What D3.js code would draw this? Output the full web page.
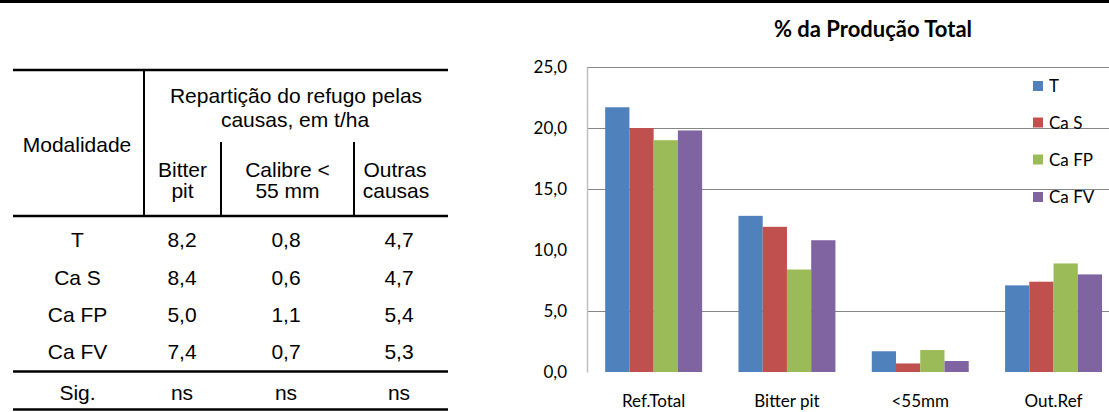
<!DOCTYPE html>
<html>
<head>
<meta charset="utf-8">
<script src="https://cdn.jsdelivr.net/npm/d3@7"></script>
<style>
  html, body { margin: 0; padding: 0; background: #fff; }
  svg { display: block; }
</style>
</head>
<body>
<svg id="chart" width="1109" height="412"></svg>
<script>
// ---- Table data ----
const tableRowLabels = ["T", "Ca S", "Ca FP", "Ca FV"];
const colBitterPit = ["8,2", "8,4", "5,0", "7,4"];
const colCalibre = ["0,8", "0,6", "1,1", "0,7"];
const colOutras = ["4,7", "4,7", "5,4", "5,3"];
const sigRow = ["Sig.", "ns", "ns", "ns"];

// ---- Chart data ----
const categories = ["Ref.Total", "Bitter pit", "<55mm", "Out.Ref"];
const seriesNames = ["T", "Ca S", "Ca FP", "Ca FV"];
const valuesT = [21.7, 12.8, 1.7, 7.1];
const valuesCaS = [20.0, 11.9, 0.7, 7.4];
const valuesCaFP = [19.0, 8.4, 1.8, 8.9];
const valuesCaFV = [19.8, 10.8, 0.9, 8.0];
const yTickValues = [0, 5, 10, 15, 20, 25];
const gridValues = [5, 15, 20, 25];
const colors = ["#4F81BD", "#C0504D", "#9BBB59", "#8064A2"];
const chartTitle = "% da Produção Total";

const svg = d3.select("#chart");

// top rule
svg.append("rect").attr("x", 0).attr("y", 0).attr("width", 1109).attr("height", 3).attr("fill", "#000");

// ---------------- TABLE ----------------
const tf = "'Liberation Sans', Arial, sans-serif";
const tfs = 21;
const tb = svg.append("g");
const tx0 = 13, tx1 = 448;
function hline(y, w) {
  tb.append("line").attr("x1", tx0).attr("x2", tx1).attr("y1", y).attr("y2", y)
    .attr("stroke", "#000").attr("stroke-width", w);
}
function vline(x, y1, y2) {
  tb.append("line").attr("x1", x).attr("x2", x).attr("y1", y1).attr("y2", y2)
    .attr("stroke", "#000").attr("stroke-width", 2);
}
function txt(s, x, y) {
  tb.append("text").attr("x", x).attr("y", y).attr("text-anchor", "middle")
    .attr("font-family", tf).attr("font-size", tfs).attr("fill", "#000").text(s);
}
hline(70, 2.5);
hline(216, 2.5);
hline(371.5, 2.5);
hline(409.5, 2.5);
vline(144, 70, 216);
vline(221, 142, 216);
vline(354, 142, 216);

txt("Repartição do refugo pelas", 296, 103);
txt("causas, em t/ha", 295, 127);
txt("Modalidade", 77, 152);
txt("Bitter", 182.5, 177); txt("pit", 182.5, 198);
txt("Calibre <", 287.5, 177); txt("55 mm", 287.5, 198);
txt("Outras", 395, 177); txt("causas", 396, 198);

const colX = [77.5, 182, 286, 399];
const rowY = [247, 285, 322, 358.5];
tableRowLabels.forEach((lab, i) => {
  txt(lab, colX[0], rowY[i]);
  txt(colBitterPit[i], colX[1], rowY[i]);
  txt(colCalibre[i], colX[2], rowY[i]);
  txt(colOutras[i], colX[3], rowY[i]);
});
sigRow.forEach((s, j) => txt(s, colX[j], 400));

// ---------------- CHART ----------------
const cf = "Lato, 'Open Sans', sans-serif";
const plotLeft = 587, plotTop = 67, plotBottom = 372;
const catWidth = 133.3;
const plotRight = plotLeft + catWidth * categories.length;

const y = d3.scaleLinear().domain([0, 25]).range([plotBottom, plotTop]);
const x0 = d3.scaleBand().domain(categories).range([plotLeft, plotRight]).padding(0);
const x1 = d3.scaleBand().domain(seriesNames).range([0, x0.bandwidth()])
  .paddingInner(0).paddingOuter(0.75);

const ch = svg.append("g");

// gridlines
ch.append("g").selectAll("line").data(gridValues).join("line")
  .attr("x1", plotLeft).attr("x2", plotRight)
  .attr("y1", d => Math.round(y(d)) + 0.5).attr("y2", d => Math.round(y(d)) + 0.5)
  .attr("stroke", "#868686").attr("stroke-width", 1);

// bars
const seriesValues = [valuesT, valuesCaS, valuesCaFP, valuesCaFV];
seriesNames.forEach((s, si) => {
  ch.append("g").selectAll("rect").data(categories).join("rect")
    .attr("x", c => x0(c) + x1(s))
    .attr("width", x1.bandwidth())
    .attr("y", (c, ci) => y(seriesValues[si][ci]))
    .attr("height", (c, ci) => y(0) - y(seriesValues[si][ci]))
    .attr("fill", colors[si]);
});

// y axis
const yAxis = d3.axisLeft(y).tickValues(yTickValues).tickSize(0).tickPadding(20)
  .tickFormat(d => d3.format(".1f")(d).replace(".", ","));
const ya = ch.append("g").attr("transform", `translate(${plotLeft},0)`).call(yAxis);
ya.select(".domain").attr("stroke", "#BFBFBF").attr("stroke-width", 1.5);
ya.selectAll("text").attr("font-family", cf).attr("font-size", 17).attr("fill", "#000");

// x labels
ch.append("g").selectAll("text").data(categories).join("text")
  .attr("x", c => x0(c) + x0.bandwidth() / 2).attr("y", 407)
  .attr("text-anchor", "middle").attr("font-family", cf).attr("font-size", 17)
  .attr("fill", "#000").text(c => c);

// title
ch.append("text").attr("x", 873).attr("y", 37).attr("text-anchor", "middle")
  .attr("font-family", cf).attr("font-weight", "bold").attr("font-size", 22)
  .attr("fill", "#000").text(chartTitle);

// legend
const legendY = [86, 122.5, 159.5, 197];
const lg = ch.append("g");
seriesNames.forEach((s, i) => {
  lg.append("rect").attr("x", 1033).attr("y", legendY[i] - 5).attr("width", 10).attr("height", 10)
    .attr("fill", colors[i]);
  lg.append("text").attr("x", 1049).attr("y", legendY[i] + 6)
    .attr("font-family", cf).attr("font-size", 17).attr("fill", "#000").text(s);
});
</script>
</body>
</html>
